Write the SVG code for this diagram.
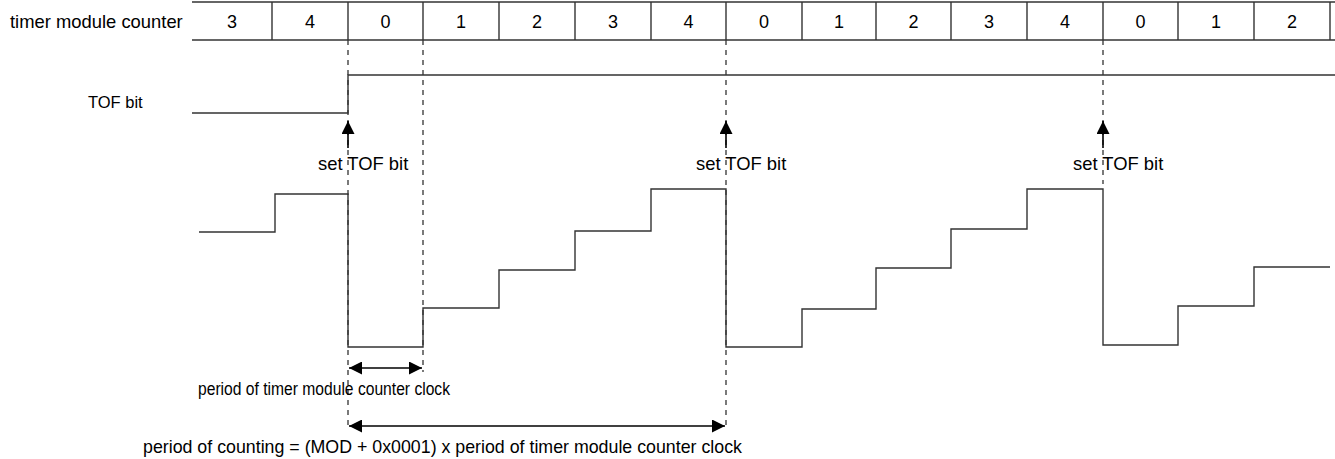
<svg xmlns="http://www.w3.org/2000/svg" width="1335" height="459" viewBox="0 0 1335 459">
<style>
  text { font-family: "Liberation Sans", Arial, sans-serif; fill: #000; }
  .lbl { font-size: 18.4px; }
  .small { font-size: 16.5px; }
  .cell { font-size: 18px; text-anchor: middle; }
  .ln { stroke: #333; stroke-width: 1.4; fill: none; }
  .dash { stroke: #333; stroke-width: 1.3; fill: none; stroke-dasharray: 5 5; }
  .arr { stroke: #000; stroke-width: 1.6; fill: none; }
</style>
<defs>
  <marker id="ah" viewBox="0 0 12 12" refX="12" refY="6" markerWidth="13" markerHeight="13" markerUnits="userSpaceOnUse" orient="auto-start-reverse">
    <path d="M0,0 L12,6 L0,12 z" fill="#000"/>
  </marker>
</defs>
<rect width="1335" height="459" fill="#fff"/>

<g id="counter-row">
  <text class="lbl" x="10" y="28">timer module counter</text>
  <line class="ln" x1="192" y1="2" x2="1335" y2="2"/>
  <line class="ln" x1="192" y1="40" x2="1335" y2="40"/>
  <g class="ln">
    <line x1="272" y1="2" x2="272" y2="40"/>
    <line x1="348" y1="2" x2="348" y2="40"/>
    <line x1="423" y1="2" x2="423" y2="40"/>
    <line x1="499" y1="2" x2="499" y2="40"/>
    <line x1="575" y1="2" x2="575" y2="40"/>
    <line x1="651" y1="2" x2="651" y2="40"/>
    <line x1="726" y1="2" x2="726" y2="40"/>
    <line x1="802" y1="2" x2="802" y2="40"/>
    <line x1="876" y1="2" x2="876" y2="40"/>
    <line x1="951" y1="2" x2="951" y2="40"/>
    <line x1="1027" y1="2" x2="1027" y2="40"/>
    <line x1="1103" y1="2" x2="1103" y2="40"/>
    <line x1="1178" y1="2" x2="1178" y2="40"/>
    <line x1="1254" y1="2" x2="1254" y2="40"/>
    <line x1="1330" y1="2" x2="1330" y2="40"/>
  </g>
  <text class="cell" x="232" y="28">3</text>
  <text class="cell" x="310" y="28">4</text>
  <text class="cell" x="385.5" y="28">0</text>
  <text class="cell" x="461" y="28">1</text>
  <text class="cell" x="537" y="28">2</text>
  <text class="cell" x="613" y="28">3</text>
  <text class="cell" x="688.5" y="28">4</text>
  <text class="cell" x="764" y="28">0</text>
  <text class="cell" x="839" y="28">1</text>
  <text class="cell" x="913.5" y="28">2</text>
  <text class="cell" x="989" y="28">3</text>
  <text class="cell" x="1065" y="28">4</text>
  <text class="cell" x="1140.5" y="28">0</text>
  <text class="cell" x="1216" y="28">1</text>
  <text class="cell" x="1292" y="28">2</text>
</g>

<g id="tof-bit">
  <text class="small" x="88" y="108">TOF bit</text>
  <polyline class="ln" points="192,113 348,113 348,75 1335,75"/>
</g>

<g id="counter-waveform">
  <polyline class="ln" points="199,232 275,232 275,194 348,194 348,347 423,347 423,308 499,308 499,270 575,270 575,231 651,231 651,189 726,189 726,347 802,347 802,309 876,309 876,268 951,268 951,229 1027,229 1027,189 1103,189 1103,345 1178,345 1178,306 1254,306 1254,267 1330,267"/>
</g>

<g id="connectors">
  <line class="dash" x1="348" y1="40" x2="348" y2="430"/>
  <line class="dash" x1="423" y1="40" x2="423" y2="372"/>
  <line class="dash" x1="726" y1="40" x2="726" y2="430"/>
  <line class="dash" x1="1103" y1="40" x2="1103" y2="184"/>
  <line class="arr" x1="348" y1="148" x2="348" y2="121" marker-end="url(#ah)"/>
  <line class="arr" x1="726" y1="148" x2="726" y2="121" marker-end="url(#ah)"/>
  <line class="arr" x1="1103" y1="148" x2="1103" y2="121" marker-end="url(#ah)"/>
  <line class="arr" x1="349" y1="368" x2="422" y2="368" marker-start="url(#ah)" marker-end="url(#ah)"/>
  <line class="arr" x1="349" y1="426" x2="725" y2="426" marker-start="url(#ah)" marker-end="url(#ah)"/>
</g>

<g id="labels">
  <text class="lbl" x="318" y="170">set TOF bit</text>
  <text class="lbl" x="696" y="170">set TOF bit</text>
  <text class="lbl" x="1073" y="170">set TOF bit</text>
  <text x="198" y="395" style="font-size:17.5px" textLength="252" lengthAdjust="spacingAndGlyphs">period of timer module counter clock</text>
  <text x="143" y="453" style="font-size:17.8px">period of counting = (MOD + 0x0001) x period of timer module counter clock</text>
</g>
</svg>
